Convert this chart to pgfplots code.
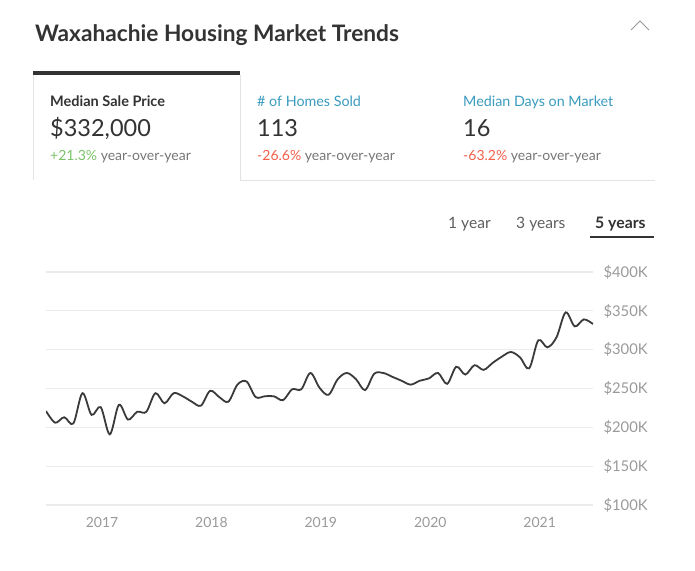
\documentclass[border=0pt]{standalone}
\usepackage{fontspec}
\setmainfont{Lato}
\usepackage{pgfplots}
\pgfplotsset{compat=1.18}
\definecolor{txt}{HTML}{333333}
\definecolor{subtxt}{HTML}{777777}
\definecolor{bluetxt}{HTML}{3A9BBE}
\definecolor{greentxt}{HTML}{7CC36A}
\definecolor{redtxt}{HTML}{F2604C}
\definecolor{gridc}{HTML}{EBEBEB}
\definecolor{tickc}{HTML}{9A9A9A}
\definecolor{borderc}{HTML}{E3E3E3}
\definecolor{linec}{HTML}{3A3A3A}
\pgfplotstableread{
m v
0 221
1 206
2 213
3 205
4 244
5 216
6 226
7 191
8 229
9 210
10 220
11 220
12 244
13 231
14 244
15 240
16 233
17 228
18 247
19 239
20 233
21 255
22 259
23 239
24 240
25 240
26 235
27 249
28 249
29 270
30 251
31 242
32 262
33 270
34 262
35 248
36 269
37 270
38 265
39 260
40 255
41 260
42 263
43 270
44 256
45 278
46 268
47 280
48 274
49 283
50 291
51 297
52 290
53 276
54 312
55 303
56 316
57 348
58 330
59 339
60 333
}\pricedata
\begin{document}
\begin{tikzpicture}
\begin{scope}[x=1pt,y=-1pt]
\path[use as bounding box, fill=white] (0,0) rectangle (695,570);
% title
\node[anchor=base west, inner sep=0, text=txt, font=\fontsize{22.7}{26}\selectfont\bfseries] at (35,41) {Waxahachie Housing Market Trends};
% chevron
\draw[tickc, line width=0.9pt] (631,30) -- (640,21) -- (649,30);
% tabs
\draw[borderc, line width=1pt] (33,75) -- (33,180);
\draw[borderc, line width=1pt] (240,75) -- (240,180) -- (655,180);
\fill[txt] (33,71) rectangle (240,75);
\node[anchor=base west, inner sep=0, text=txt, font=\fontsize{14.5}{16}\selectfont\bfseries] at (50,106) {Median Sale Price};
\node[anchor=base west, inner sep=0, text=txt, font=\fontsize{23.5}{26}\selectfont] at (50,136) {\$332,000};
\node[anchor=base west, inner sep=0, font=\fontsize{14}{15}\selectfont] at (50,160) {\textcolor{greentxt}{+21.3\%} \textcolor{subtxt}{year-over-year}};
\node[anchor=base west, inner sep=0, text=bluetxt, font=\fontsize{14.3}{16}\selectfont] at (257,106) {\# of Homes Sold};
\node[anchor=base west, inner sep=0, text=txt, font=\fontsize{23.5}{26}\selectfont] at (257,136) {113};
\node[anchor=base west, inner sep=0, font=\fontsize{14}{15}\selectfont] at (257,160) {\textcolor{redtxt}{-26.6\%} \textcolor{subtxt}{year-over-year}};
\node[anchor=base west, inner sep=0, text=bluetxt, font=\fontsize{14.3}{16}\selectfont] at (463,106) {Median Days on Market};
\node[anchor=base west, inner sep=0, text=txt, font=\fontsize{23.5}{26}\selectfont] at (463,136) {16};
\node[anchor=base west, inner sep=0, font=\fontsize{14}{15}\selectfont] at (463,160) {\textcolor{redtxt}{-63.2\%} \textcolor{subtxt}{year-over-year}};
% period tabs
\node[anchor=base west, inner sep=0, text=subtxt!80!black, font=\fontsize{15.6}{17}\selectfont] at (448,228) {1 year};
\node[anchor=base west, inner sep=0, text=subtxt!80!black, font=\fontsize{15.6}{17}\selectfont] at (516,228) {3 years};
\node[anchor=base west, inner sep=0, text=txt, font=\fontsize{15.8}{17}\selectfont\bfseries] at (595,228) {5 years};
\draw[txt, line width=1.8pt] (590,237) -- (654,237);
\end{scope}
\begin{axis}[
  at={(46pt,-505pt)}, anchor=south west,
  scale only axis, width=547pt, height=233pt,
  xmin=0, xmax=60, ymin=100, ymax=400,
  axis line style={draw=none},
  major tick length=0pt,
  ymajorgrids, grid style={color=gridc, line width=1.2pt},
  ytick={100,150,200,250,300,350,400},
  yticklabels={\$100K,\$150K,\$200K,\$250K,\$300K,\$350K,\$400K},
  yticklabel pos=right,
  yticklabel style={text=tickc, font=\fontsize{14.8}{16}\selectfont, xshift=7pt},
  xtick={6.15,18.15,30.15,42.15,54.15},
  xticklabels={2017,2018,2019,2020,2021},
  xticklabel style={text=tickc, font=\fontsize{14}{16}\selectfont, yshift=-9pt},
]
\addplot[smooth, tension=0.55, color=linec, line width=1.8pt] table[x=m, y=v] {\pricedata};
\end{axis}
\end{tikzpicture}
\end{document}
